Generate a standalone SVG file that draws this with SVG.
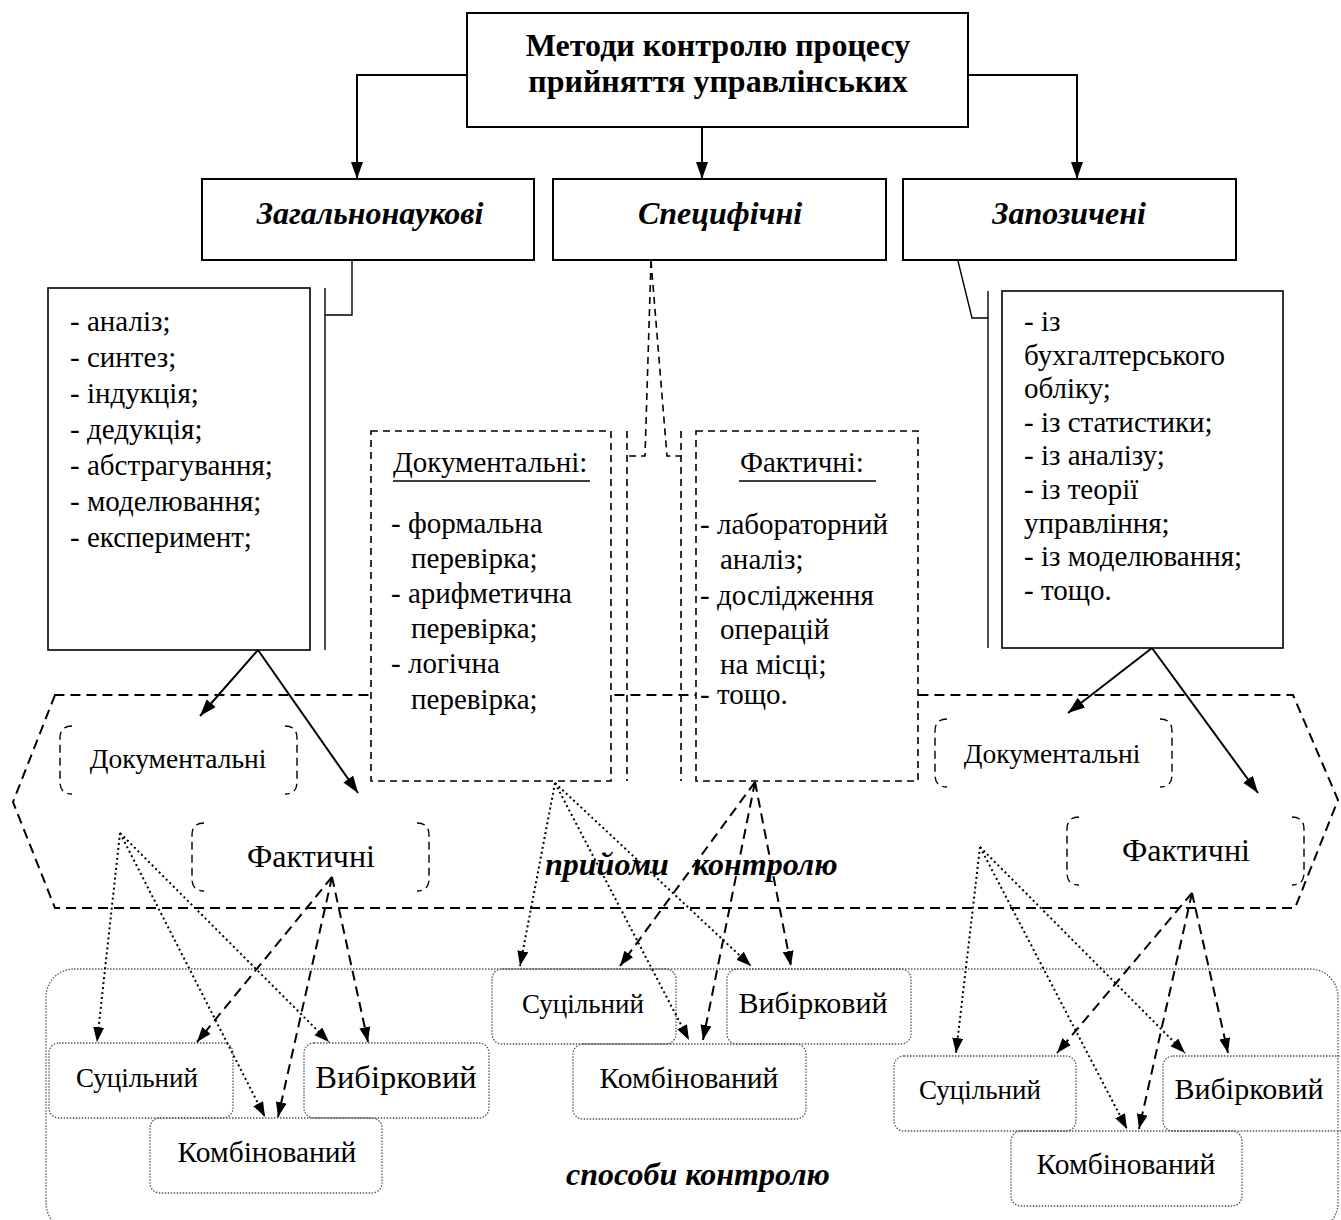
<svg xmlns="http://www.w3.org/2000/svg" width="1341" height="1220" viewBox="0 0 1341 1220" font-family="'Liberation Serif', 'Times New Roman', serif">
<style>
text{font-family:'Liberation Serif','Times New Roman',serif;fill:#000}
.box{fill:#fff;stroke:#000;stroke-width:2}
.lst{font-size:29px}
.hd{font-size:32px;font-weight:bold;font-style:italic}
.top{font-size:32px;font-weight:bold}
.dbox{fill:#fff;stroke:#000;stroke-width:1.6;stroke-dasharray:7 5}
.dl{fill:none;stroke:#000;stroke-width:1.6;stroke-dasharray:7 5}
.br{fill:none;stroke:#000;stroke-width:1.4;stroke-dasharray:8 5}
.sol{fill:none;stroke:#000;stroke-width:2}
.dot{fill:none;stroke:#000;stroke-width:2;stroke-dasharray:2 3}
.dsh{fill:none;stroke:#000;stroke-width:2;stroke-dasharray:10 6}
.bb{fill:none;stroke:#555;stroke-width:1.3;stroke-dasharray:1.5 1.5}
.doc{font-size:27.5px}
.fac{font-size:32px}
.suc{font-size:27px}
.kom{font-size:29.5px}
.vyb{font-size:30px}
.c{text-anchor:middle}
</style>
<defs>
<marker id="ah" markerUnits="userSpaceOnUse" markerWidth="18" markerHeight="14" refX="17" refY="6" orient="auto">
<path d="M0,0 L17,6 L0,12 z" fill="#000"/>
</marker>
<marker id="as" markerUnits="userSpaceOnUse" markerWidth="16" markerHeight="12" refX="15" refY="5.5" orient="auto">
<path d="M0,0 L15,5.5 L0,11 z" fill="#000"/>
</marker>
</defs>

<g id="hexagon">
<polygon points="55,695 13,802 55,908 1295,908 1338,800 1293,695" fill="none" stroke="#000" stroke-width="2" stroke-dasharray="10 6"/>
</g>
<g id="methods-region">
<rect x="46" y="969" width="1292" height="262" rx="28" fill="none" stroke="#555" stroke-width="1.3" stroke-dasharray="1.5 1.5"/>
</g>

<g id="root">
<rect class="box" x="467" y="13" width="501" height="114" stroke-width="2.5"/>
<text class="top c" x="718" y="56">Методи контролю процесу</text>
<text class="top c" x="718" y="92">прийняття управлінських</text>
</g>

<g id="general">
<rect class="box" x="202" y="179" width="332" height="81"/>
<text class="hd c" x="370" y="224">Загальнонаукові</text>
</g>
<g id="specific">
<rect class="box" x="553" y="179" width="333" height="81"/>
<text class="hd c" x="720" y="224">Специфічні</text>
</g>
<g id="borrowed">
<rect class="box" x="903" y="179" width="333" height="81"/>
<text class="hd c" x="1069" y="224">Запозичені</text>
</g>

<g id="general-list">
<rect fill="#fff" stroke="#000" stroke-width="1.6" x="48" y="288" width="262" height="362"/>
<text class="lst" x="70" y="331">- аналіз;</text>
<text class="lst" x="70" y="367">- синтез;</text>
<text class="lst" x="70" y="403">- індукція;</text>
<text class="lst" x="70" y="439">- дедукція;</text>
<text class="lst" x="70" y="475">- абстрагування;</text>
<text class="lst" x="70" y="511">- моделювання;</text>
<text class="lst" x="70" y="547">- експеримент;</text>
</g>

<g id="borrowed-list">
<rect fill="#fff" stroke="#000" stroke-width="1.6" x="1002" y="291" width="281" height="357"/>
<text class="lst" x="1024" y="331">- із</text>
<text class="lst" x="1024" y="365">бухгалтерського</text>
<text class="lst" x="1024" y="398">обліку;</text>
<text class="lst" x="1024" y="432">- із статистики;</text>
<text class="lst" x="1024" y="465">- із аналізу;</text>
<text class="lst" x="1024" y="499">- із теорії</text>
<text class="lst" x="1024" y="533">управління;</text>
<text class="lst" x="1024" y="566">- із моделювання;</text>
<text class="lst" x="1024" y="600">- тощо.</text>
</g>

<g id="documentary-list">
<rect class="dbox" x="371" y="431" width="240" height="350"/>
<text class="lst" x="393" y="472">Документальні:</text>
<line x1="393" y1="481" x2="590" y2="481" stroke="#000" stroke-width="1.6"/>
<text class="lst" x="391" y="533">- формальна</text>
<text class="lst" x="411" y="568">перевірка;</text>
<text class="lst" x="391" y="603">- арифметична</text>
<text class="lst" x="411" y="638">перевірка;</text>
<text class="lst" x="391" y="673">- логічна</text>
<text class="lst" x="411" y="709">перевірка;</text>
</g>

<g id="factual-list">
<rect class="dbox" x="696" y="431" width="222" height="350"/>
<text class="lst" x="740" y="472">Фактичні:</text>
<line x1="739" y1="481" x2="876" y2="481" stroke="#000" stroke-width="1.6"/>
<text class="lst" x="700" y="534">- лабораторний</text>
<text class="lst" x="720" y="569">аналіз;</text>
<text class="lst" x="700" y="605">- дослідження</text>
<text class="lst" x="720" y="639">операцій</text>
<text class="lst" x="720" y="674">на місці;</text>
<text class="lst" x="700" y="704">- тощо.</text>
</g>

<g id="doc-left">
<path class="br" d="M72,726 Q60,726 60,738 V782 Q60,794 72,794 M285,726 Q297,726 297,738 V782 Q297,794 285,794"/>
<text class="doc c" x="178" y="768">Документальні</text>
</g>
<g id="fact-left">
<path class="br" d="M204,823 Q192,823 192,835 V879 Q192,891 204,891 M417,823 Q429,823 429,835 V879 Q429,891 417,891"/>
<text class="fac c" x="311" y="867">Фактичні</text>
</g>
<g id="doc-right">
<path class="br" d="M947,719 Q935,719 935,731 V775 Q935,787 947,787 M1160,719 Q1172,719 1172,731 V775 Q1172,787 1160,787"/>
<text class="doc c" x="1052" y="763">Документальні</text>
</g>
<g id="fact-right">
<path class="br" d="M1079,817 Q1067,817 1067,829 V873 Q1067,885 1079,885 M1292,817 Q1304,817 1304,829 V873 Q1304,885 1292,885"/>
<text class="fac c" x="1186" y="861">Фактичні</text>
</g>

<g id="label-techniques">
<text class="hd" x="545" y="875">прийоми</text>
<text class="hd" x="693" y="875">контролю</text>
</g>
<g id="label-ways">
<text class="hd c" x="698" y="1185">способи контролю</text>
</g>

<g id="left-continuous">
<rect class="bb" x="49" y="1043" width="184" height="75" rx="10"/>
<text class="suc c" x="137" y="1087">Суцільний</text>
</g>
<g id="left-selective">
<rect class="bb" x="304" y="1043" width="185" height="75" rx="10"/>
<text class="c" style="font-size:32.5px" x="396" y="1088">Вибірковий</text>
</g>
<g id="left-combined">
<rect class="bb" x="150" y="1118" width="232" height="75" rx="10"/>
<text class="kom c" x="267" y="1162">Комбінований</text>
</g>
<g id="center-continuous">
<rect class="bb" x="492" y="969" width="184" height="75" rx="10"/>
<text class="suc c" x="583" y="1013">Суцільний</text>
</g>
<g id="center-selective">
<rect class="bb" x="727" y="969" width="184" height="75" rx="10"/>
<text class="vyb c" x="813" y="1013">Вибірковий</text>
</g>
<g id="center-combined">
<rect class="bb" x="573" y="1044" width="233" height="75" rx="10"/>
<text class="kom c" x="689" y="1088">Комбінований</text>
</g>
<g id="right-continuous">
<rect class="bb" x="894" y="1056" width="182" height="75" rx="10"/>
<text class="suc c" x="980" y="1099">Суцільний</text>
</g>
<g id="right-selective">
<rect class="bb" x="1163" y="1056" width="190" height="75" rx="10"/>
<text class="vyb c" x="1249" y="1099">Вибірковий</text>
</g>
<g id="right-combined">
<rect class="bb" x="1011" y="1131" width="231" height="75" rx="10"/>
<text class="kom c" x="1126" y="1174">Комбінований</text>
</g>

<g id="connectors">
<path class="sol" d="M467,75 H357 V179" marker-end="url(#ah)"/>
<path class="sol" d="M702,127 V179" marker-end="url(#ah)"/>
<path class="sol" d="M968,75 H1077 V179" marker-end="url(#ah)"/>
<path fill="none" stroke="#000" stroke-width="1.4" d="M352,261 V315 H325 M325,288 V650"/>
<path fill="none" stroke="#000" stroke-width="1.4" d="M958,261 L972,318 H988 M988,291 V648"/>
<path class="dl" d="M651,261 L645,456 H627 M651,261 L667,456 H681"/>
<path class="dl" d="M627,431 V781 M681,431 V781"/>
<path class="sol" d="M258,650 L200,716" marker-end="url(#ah)"/>
<path class="sol" d="M258,650 L358,793" marker-end="url(#ah)"/>
<path class="sol" d="M1152,648 L1068,713" marker-end="url(#ah)"/>
<path class="sol" d="M1152,648 L1258,793" marker-end="url(#ah)"/>

<path class="dot" d="M120,833 L97,1042" marker-end="url(#as)"/>
<path class="dot" d="M120,833 L265,1117" marker-end="url(#as)"/>
<path class="dot" d="M120,833 L329,1042" marker-end="url(#as)"/>
<path class="dsh" d="M332,877 L197,1042" marker-end="url(#as)"/>
<path class="dsh" d="M332,877 L278,1117" marker-end="url(#as)"/>
<path class="dsh" d="M332,877 L368,1042" marker-end="url(#as)"/>

<path class="dot" d="M555,783 L520,966" marker-end="url(#as)"/>
<path class="dot" d="M555,783 L689,1040" marker-end="url(#as)"/>
<path class="dot" d="M555,783 L751,966" marker-end="url(#as)"/>
<path class="dsh" d="M755,782 L620,966" marker-end="url(#as)"/>
<path class="dsh" d="M755,782 L703,1040" marker-end="url(#as)"/>
<path class="dsh" d="M755,782 L791,966" marker-end="url(#as)"/>

<path class="dot" d="M980,847 L956,1053" marker-end="url(#as)"/>
<path class="dot" d="M980,847 L1127,1129" marker-end="url(#as)"/>
<path class="dot" d="M980,847 L1185,1053" marker-end="url(#as)"/>
<path class="dsh" d="M1192,893 L1057,1053" marker-end="url(#as)"/>
<path class="dsh" d="M1192,893 L1139,1129" marker-end="url(#as)"/>
<path class="dsh" d="M1192,893 L1228,1053" marker-end="url(#as)"/>
</g>
</svg>
